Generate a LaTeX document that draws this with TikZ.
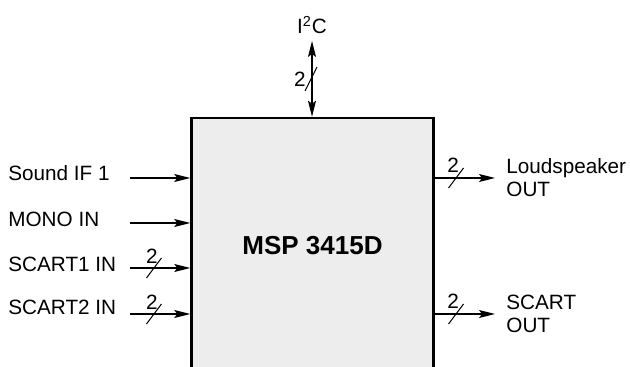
\documentclass[tikz,border=0pt]{standalone}
\usepackage{fontspec}
\setmainfont{Liberation Sans}
\usetikzlibrary{arrows.meta,positioning}

\begin{document}
\begin{tikzpicture}[
      x=0.5pt, y=0.5pt,
      chip/.style={draw, line width=1.25pt, fill=black!7, minimum width=121pt,
                   minimum height=127.5pt, inner sep=0pt,
                   font=\fontsize{13}{15}\selectfont\bfseries},
      sig/.style={font=\fontsize{10.35}{11.5}\selectfont, inner sep=0pt},
      arrow/.style={-{Stealth[length=8pt, width=4pt, inset=1.5pt]}, line width=0.65pt},
      darrow/.style={{Stealth[length=8pt, width=4pt, inset=1.5pt]}-{Stealth[length=8pt, width=4pt, inset=1.5pt]},
                     line width=0.65pt},
      bus/.style={line width=0.5pt},
    ]
    \clip (0,0) rectangle (630,367);

    % ---- chip ----
    \node[chip] (msp) at (312.5,121.5) {MSP 3415D};

    % ---- inputs ----
    \coordinate (in1) at (130,189);
    \coordinate (in2) at (130,144);
    \coordinate (in3) at (130,99);
    \coordinate (in4) at (130,53);

    \node[sig, anchor=west] (lin1) at (8,194) {Sound IF 1};
    \node[sig, anchor=west] (lin2) at (8,148) {MONO IN};
    \node[sig, anchor=west] (lin3) at (8,103) {SCART1 IN};
    \node[sig, anchor=west] (lin4) at (8,60) {SCART2 IN};

    \draw[arrow] (in1) -- (in1 -| msp.west);
    \draw[arrow] (in2) -- (in2 -| msp.west);
    \draw[arrow] (in3) -- (in3 -| msp.west);
    \draw[arrow] (in4) -- (in4 -| msp.west);

    % bus width marks on inputs
    \coordinate (s3) at (154,99);
    \coordinate (s4) at (154,53);
    \draw[bus] (s3) ++(-7.5,-10) -- ++(15,20);
    \draw[bus] (s4) ++(-7.5,-10) -- ++(15,20);
    \node[sig, above=2pt of s3, xshift=-1pt] (n3) {2};
    \node[sig, above=2pt of s4, xshift=-1pt] (n4) {2};

    % ---- outputs ----
    \coordinate (out1) at (495,189);
    \coordinate (out2) at (495,53);
    \draw[arrow] (out1 -| msp.east) -- (out1);
    \draw[arrow] (out2 -| msp.east) -- (out2);

    \node[sig, align=left, right=5.5pt of out1] (lout1) {Loudspeaker\\OUT};
    \node[sig, align=left, right=5.5pt of out2] (lout2) {SCART\\OUT};

    \coordinate (s5) at (456,189);
    \coordinate (s6) at (456,53);
    \draw[bus] (s5) ++(-7.5,-10) -- ++(15,20);
    \draw[bus] (s6) ++(-7.5,-10) -- ++(15,20);
    \node[sig, above=2.5pt of s5, xshift=-1.5pt] (n5) {2};
    \node[sig, above=2.5pt of s6, xshift=-1.5pt] (n6) {2};

    % ---- I2C bus ----
    \coordinate (bus) at (312,326);
    \draw[darrow] (bus) -- (bus |- msp.north);
    \node[sig, above=3.5pt of bus] (i2c) {I\textsuperscript{2}C};

    \coordinate (s7) at (311,288);
    \draw[bus] (s7) ++(-6,-12) -- ++(12,24);
    \node[sig, left=2.5pt of s7] (n7) {2};
  \end{tikzpicture}
\end{document}
